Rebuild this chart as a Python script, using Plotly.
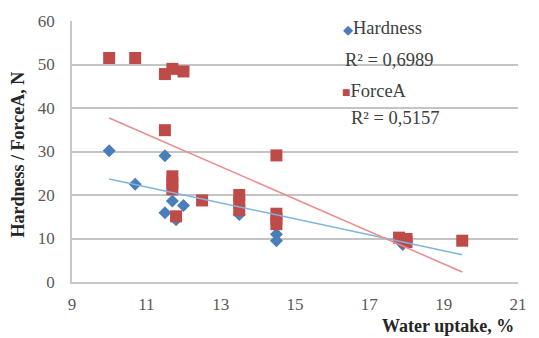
import plotly.graph_objects as go

# Data
hardness_x = [10.0, 10.7, 11.5, 11.5, 11.7, 12.0, 11.8, 13.5, 14.5, 14.5, 17.9, 18.0]
hardness_y = [30.2, 22.5, 29.0, 15.9, 18.6, 17.6, 14.3, 15.5, 11.0, 9.5, 8.6, 9.5]

force_x = [10.0, 10.7, 11.5, 11.7, 12.0, 11.5, 11.7, 11.7, 11.7, 11.8, 12.5,
           13.5, 13.5, 13.5, 14.5, 14.5, 14.5, 14.5, 17.8, 18.0, 18.0, 19.5]
force_y = [51.5, 51.5, 47.8, 49.0, 48.4, 34.9, 24.3, 22.8, 21.3, 15.1, 18.75,
           20.0, 18.2, 16.5, 29.1, 15.7, 14.5, 13.3, 10.2, 9.9, 9.2, 9.5]

trend_x = [10.0, 19.5]
hardness_trend = [23.7, 6.25]
force_trend = [37.7, 2.3]

x_ticks = [9, 11, 13, 15, 17, 19, 21]
y_ticks = [0, 10, 20, 30, 40, 50, 60]

hardness_r2 = "R² = 0,6989"
force_r2 = "R² = 0,5157"

BLUE = "#4a7ebb"
RED = "#be4b48"
BLUE_LINE = "#7fb3e0"
RED_LINE = "#eb8c8c"
GRID = "#c4c4c4"
FONT = "Liberation Serif"
TXT = "#404040"
LEG = 18.5

fig = go.Figure()
fig.add_trace(go.Scatter(x=hardness_x, y=hardness_y, mode="markers", name="Hardness",
                         marker=dict(symbol="diamond", size=10, color=BLUE)))
fig.add_trace(go.Scatter(x=force_x, y=force_y, mode="markers", name="ForceA",
                         marker=dict(symbol="square", size=12, color=RED)))
fig.add_trace(go.Scatter(x=trend_x, y=hardness_trend, mode="lines",
                         line=dict(color=BLUE_LINE, width=1.5)))
fig.add_trace(go.Scatter(x=trend_x, y=force_trend, mode="lines",
                         line=dict(color=RED_LINE, width=1.5)))

fig.update_layout(
    width=539, height=338,
    margin=dict(l=72, r=14, t=18, b=56),
    paper_bgcolor="white", plot_bgcolor="white",
    showlegend=False,
    font=dict(family=FONT, size=17, color="#595959"),
    xaxis=dict(range=[9, 21], tickmode="array", tickvals=x_ticks, showgrid=False, zeroline=False,
               showline=True, linecolor="#c8c8c8", linewidth=1.5,
               ticks="outside", ticklen=6, tickcolor="rgba(0,0,0,0)"),
    yaxis=dict(range=[0, 60], tickmode="array", tickvals=y_ticks, showgrid=True,
               gridcolor=GRID, gridwidth=1.5, zeroline=False, showline=True,
               linecolor="#c8c8c8", linewidth=1.5, ticks="outside", ticklen=12,
               tickcolor="rgba(0,0,0,0)"),
    annotations=[
        dict(xref="paper", yref="paper", x=1, y=-0.17, xanchor="right", yanchor="middle",
             xshift=-2, yshift=0,
             text="<b>Water uptake, %</b>", showarrow=False,
             font=dict(family=FONT, size=18, color="#262626")),
        dict(xref="paper", yref="paper", x=0, y=0.5, xanchor="center", yanchor="middle",
             xshift=-55, yshift=-3, textangle=-90,
             text="<b>Hardness / ForceA, N</b>", showarrow=False,
             font=dict(family=FONT, size=18, color="#262626")),
        dict(xref="x", yref="y", x=16.25, y=58.5, xanchor="left", yanchor="middle",
             text=f"<span style='color:{BLUE};font-size:13px'>◆</span>Hardness", showarrow=False,
             font=dict(family=FONT, size=LEG, color=TXT)),
        dict(xref="x", yref="y", x=16.28, y=51.0, xanchor="left", yanchor="middle",
             text=hardness_r2, showarrow=False,
             font=dict(family=FONT, size=LEG, color=TXT)),
        dict(xref="x", yref="y", x=16.22, y=43.8, xanchor="left", yanchor="middle",
             text=f"<span style='color:{RED};font-size:14px'>■</span>ForceA", showarrow=False,
             font=dict(family=FONT, size=LEG, color=TXT)),
        dict(xref="x", yref="y", x=16.44, y=37.6, xanchor="left", yanchor="middle",
             text=force_r2, showarrow=False,
             font=dict(family=FONT, size=LEG, color=TXT)),
    ],
)

fig.write_html("out.html")
